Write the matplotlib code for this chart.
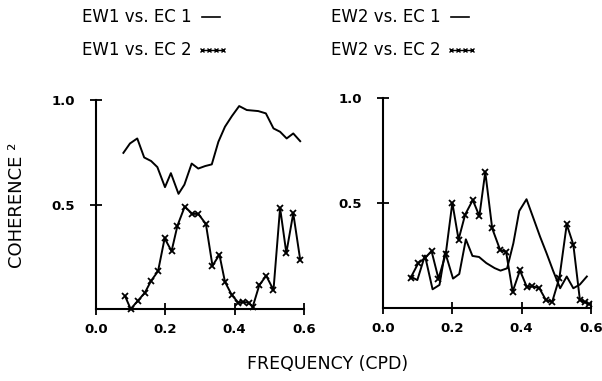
import matplotlib
matplotlib.use("Agg")
import matplotlib.pyplot as plt
from matplotlib.lines import Line2D

# ----- data -----
# left panel: EW1 vs EC1 (solid line)
f_ew1_ec1 = [0.079, 0.098, 0.119, 0.139, 0.159, 0.177, 0.199, 0.216, 0.238, 0.255,
             0.276, 0.295, 0.315, 0.334, 0.353, 0.372, 0.392, 0.413, 0.435, 0.468,
             0.490, 0.512, 0.531, 0.550, 0.569, 0.589]
c_ew1_ec1 = [0.747, 0.792, 0.816, 0.725, 0.708, 0.679, 0.583, 0.650, 0.551, 0.595,
             0.696, 0.672, 0.684, 0.692, 0.800, 0.872, 0.923, 0.971, 0.952, 0.947,
             0.936, 0.864, 0.848, 0.816, 0.840, 0.803]

# left panel: EW1 vs EC2 (crosses)
f_ew1_ec2 = [0.084, 0.100, 0.120, 0.141, 0.159, 0.179, 0.198, 0.218, 0.235, 0.256,
             0.278, 0.295, 0.317, 0.336, 0.356, 0.372, 0.392, 0.411, 0.425, 0.440,
             0.452, 0.471, 0.491, 0.512, 0.531, 0.549, 0.569, 0.589]
c_ew1_ec2 = [0.061, 0.000, 0.038, 0.078, 0.135, 0.181, 0.338, 0.277, 0.399, 0.490,
             0.455, 0.455, 0.407, 0.207, 0.260, 0.130, 0.066, 0.030, 0.034, 0.030,
             0.010, 0.114, 0.159, 0.091, 0.484, 0.268, 0.458, 0.236]

# right panel: EW2 vs EC1 (solid line)
f_ew2_ec1 = [0.080, 0.099, 0.121, 0.143, 0.163, 0.179, 0.202, 0.220, 0.239, 0.258,
             0.277, 0.298, 0.322, 0.339, 0.358, 0.376, 0.393, 0.414, 0.434, 0.453,
             0.472, 0.491, 0.511, 0.530, 0.549, 0.568, 0.588]
c_ew2_ec1 = [0.149, 0.133, 0.250, 0.089, 0.110, 0.267, 0.140, 0.162, 0.327, 0.248,
             0.243, 0.214, 0.190, 0.178, 0.189, 0.308, 0.462, 0.518, 0.427, 0.340,
             0.260, 0.176, 0.094, 0.150, 0.094, 0.112, 0.150]

# right panel: EW2 vs EC2 (crosses)
f_ew2_ec2 = [0.080, 0.102, 0.121, 0.140, 0.160, 0.181, 0.200, 0.218, 0.237, 0.259,
             0.278, 0.295, 0.315, 0.338, 0.355, 0.374, 0.395, 0.415, 0.431, 0.451,
             0.470, 0.488, 0.509, 0.530, 0.549, 0.568, 0.583, 0.594]
c_ew2_ec2 = [0.145, 0.214, 0.238, 0.271, 0.140, 0.257, 0.501, 0.326, 0.445, 0.514,
             0.438, 0.648, 0.379, 0.276, 0.268, 0.078, 0.179, 0.100, 0.104, 0.094,
             0.038, 0.029, 0.145, 0.398, 0.302, 0.038, 0.028, 0.019]

x_ticks = [0.0, 0.2, 0.4, 0.6]
x_labels = ["0.0", "0.2", "0.4", "0.6"]
y_ticks = [0.5, 1.0]
y_labels = ["0.5", "1.0"]

plt.rcParams['font.family'] = ['DejaVu Sans']

fig = plt.figure(figsize=(6.02, 3.81), dpi=100)
ax1 = fig.add_axes([96 / 602, 72 / 381, 208 / 602, 209 / 381])
ax2 = fig.add_axes([383 / 602, 73 / 381, 208 / 602, 210 / 381])

panels = [
    (ax1, f_ew1_ec1, c_ew1_ec1, f_ew1_ec2, c_ew1_ec2),
    (ax2, f_ew2_ec1, c_ew2_ec1, f_ew2_ec2, c_ew2_ec2),
]

for ax, fa, ca, fb, cb in panels:
    ax.plot(fa, ca, color='black', lw=1.4, clip_on=False)
    ax.plot(fb, cb, color='black', lw=1.4, marker='x', ms=5, mew=1.3, clip_on=False)
    ax.set_xlim(0, 0.6)
    ax.set_ylim(0, 1.0)
    for s in ['top', 'right']:
        ax.spines[s].set_visible(False)
    for s in ['left', 'bottom']:
        ax.spines[s].set_linewidth(1.5)
    ax.set_xticks(x_ticks)
    ax.set_xticklabels(x_labels, fontsize=9.5, fontweight='bold')
    ax.set_yticks(y_ticks)
    ax.set_yticklabels(y_labels, fontsize=9.5, fontweight='bold')
    ax.tick_params(direction='inout', length=8, width=1.3, pad=6)
    ax.tick_params(axis='y', pad=11)

# legend text at the top
legend_rows = [
    (82, 17, "EW1 vs. EC 1", 'line'),
    (82, 50, "EW1 vs. EC 2", 'cross'),
    (331, 17, "EW2 vs. EC 1", 'line'),
    (331, 50, "EW2 vs. EC 2", 'cross'),
]
for px, py, txt, kind in legend_rows:
    fig.text(px / 602, 1 - py / 381, txt, fontsize=12, va='center', ha='left')
    x0 = px + 120
    if kind == 'line':
        fig.add_artist(Line2D([x0 / 602, (x0 + 18) / 602], [1 - py / 381] * 2,
                              color='black', lw=1.2))
    else:
        fig.add_artist(Line2D([x0 / 602, (x0 + 7) / 602, (x0 + 14) / 602, (x0 + 21) / 602],
                              [1 - py / 381] * 4, color='black', lw=1.0,
                              marker='x', ms=3.5, mew=1.0))

fig.text(17 / 602, 1 - 205 / 381, "COHERENCE \u00b2", rotation=90,
         fontsize=13, va='center', ha='center')
fig.text(328 / 602, 1 - 364 / 381, "FREQUENCY (CPD)", fontsize=12.5,
         va='center', ha='center')

fig.savefig("out.png", dpi=100)
